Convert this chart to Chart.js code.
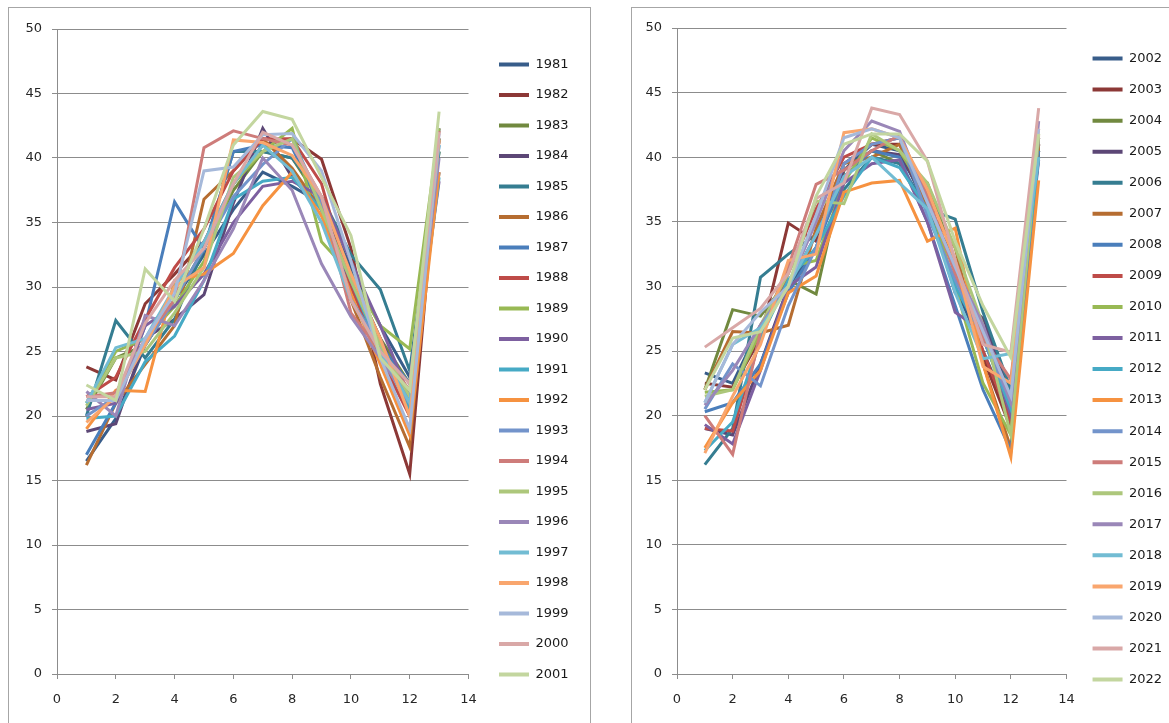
<!DOCTYPE html>
<html>
<head>
<meta charset="utf-8">
<script src="https://cdn.jsdelivr.net/npm/chart.js@4/dist/chart.umd.min.js"></script>
<style>
  html, body { margin: 0; padding: 0; background: #ffffff; overflow: hidden; }
  body { width: 1169px; height: 723px; position: relative; }
  .frame { position: absolute; border: 1px solid #a6a6a6; background: #fff; }
  .box { position: absolute; }
</style>
</head>
<body>
<div class="frame" style="left:8px; top:7px; width:581px; height:730px;"></div>
<div class="frame" style="left:631px; top:7px; width:560px; height:730px;"></div>
<div class="box" style="left:9px; top:8px; width:580px; height:714px;"><canvas id="left"></canvas></div>
<div class="box" style="left:632px; top:8px; width:537px; height:715px;"><canvas id="right"></canvas></div>
<script>
// ---- data ----
const xValues = [1, 2, 3, 4, 5, 6, 7, 8, 9, 10, 11, 12, 13];
const xTicks = [0, 2, 4, 6, 8, 10, 12, 14];
const yTicks = [0, 5, 10, 15, 20, 25, 30, 35, 40, 45, 50];

const leftYears = ['1981','1982','1983','1984','1985','1986','1987','1988','1989','1990','1991','1992','1993','1994','1995','1996','1997','1998','1999','2000','2001'];
const rightYears = ['2002','2003','2004','2005','2006','2007','2008','2009','2010','2011','2012','2013','2014','2015','2016','2017','2018','2019','2020','2021','2022'];

const y1981 = [16.5,19.8,25.5,29.0,32.5,36.0,38.9,37.8,36.5,31.5,27.0,23.0,38.9];
const y1982 = [23.8,22.8,28.7,31.0,33.5,38.0,41.0,41.5,39.9,33.0,22.5,15.5,41.5];
const y1983 = [20.5,24.5,25.5,29.0,33.0,37.5,40.5,40.0,36.5,31.0,26.0,22.5,40.5];
const y1984 = [18.8,19.4,26.0,27.5,29.4,36.5,42.3,38.5,36.0,31.0,26.0,21.0,42.3];
const y1985 = [20.0,27.4,24.5,27.5,33.0,40.5,40.5,40.0,37.0,32.5,29.8,23.5,40.5];
const y1986 = [16.2,21.0,24.0,27.0,36.8,39.0,41.5,39.2,36.0,29.0,23.0,17.6,41.5];
const y1987 = [17.0,21.0,27.0,36.6,32.9,40.5,41.0,40.8,36.0,30.0,25.5,22.5,41.0];
const y1988 = [21.5,23.0,27.5,31.5,34.5,39.0,41.5,41.5,38.0,30.0,24.5,20.0,41.5];
const y1989 = [21.0,25.0,26.0,28.5,32.0,38.0,40.5,42.3,33.5,31.0,27.0,25.2,42.3];
const y1990 = [20.5,21.0,27.0,28.5,31.0,35.0,37.8,38.2,37.0,32.0,27.0,21.5,38.2];
const y1991 = [19.8,20.0,24.2,26.2,30.5,36.8,38.2,38.5,36.0,30.5,25.0,20.5,38.5];
const y1992 = [19.0,22.0,21.9,30.5,31.0,32.6,36.3,38.9,35.5,29.5,24.0,18.5,38.9];
const y1993 = [20.0,21.5,25.5,29.0,33.0,37.0,39.5,41.5,36.5,29.0,25.5,21.0,41.5];
const y1994 = [21.5,21.8,26.0,29.0,40.8,42.1,41.5,41.0,37.0,28.0,25.0,22.0,42.1];
const y1995 = [20.8,24.5,25.0,28.0,31.5,38.5,40.5,41.5,36.0,30.5,25.5,21.5,41.5];
const y1996 = [21.9,20.0,27.8,27.0,30.5,34.5,40.0,37.5,31.8,27.7,24.5,21.0,40.0];
const y1997 = [21.0,25.3,26.0,30.0,33.5,38.0,41.0,39.0,35.0,29.0,25.0,21.0,41.0];
const y1998 = [19.5,21.5,25.5,30.0,31.5,41.4,41.2,40.2,37.0,31.0,26.0,20.0,41.4];
const y1999 = [21.2,21.2,26.0,29.5,39.0,39.3,41.8,41.9,39.0,32.0,24.5,19.0,41.9];
const y2000 = [21.5,21.5,27.2,30.5,33.0,38.0,42.0,41.0,37.0,29.0,25.0,22.5,42.0];
const y2001 = [22.4,21.2,31.4,28.9,34.5,41.0,43.6,43.0,38.5,34.0,24.5,22.0,43.6];

const y2002 = [23.3,22.5,27.0,30.0,33.0,39.0,41.0,40.5,36.0,30.0,25.0,20.0,41.0];
const y2003 = [22.5,22.2,26.0,34.9,33.5,39.5,41.0,41.0,36.0,32.0,24.5,19.0,41.0];
const y2004 = [22.0,28.2,27.7,30.5,29.4,39.0,40.5,39.5,38.0,32.0,26.0,20.5,40.5];
const y2005 = [19.0,18.5,24.0,30.0,34.0,39.0,40.5,40.2,36.5,29.5,27.5,21.5,40.5];
const y2006 = [16.2,19.0,30.7,32.5,34.0,37.5,40.0,39.5,36.0,35.2,28.0,22.0,40.0];
const y2007 = [22.0,26.5,26.4,27.0,34.5,39.5,40.0,41.0,36.0,33.0,24.0,17.5,41.0];
const y2008 = [20.3,21.0,24.0,29.5,33.0,38.5,40.5,40.0,35.0,28.5,22.0,17.3,40.5];
const y2009 = [19.0,18.8,26.0,31.0,36.0,40.0,41.0,41.5,37.0,31.0,25.0,19.5,41.5];
const y2010 = [21.8,22.0,26.5,31.5,32.0,38.0,41.5,40.5,37.0,30.0,22.5,18.5,41.5];
const y2011 = [19.3,17.8,23.5,30.0,31.5,38.0,39.5,39.8,35.0,28.0,26.5,20.0,39.8];
const y2012 = [17.3,19.5,26.0,30.5,33.0,37.0,40.0,39.2,36.0,30.0,26.0,20.5,40.0];
const y2013 = [17.5,21.0,23.5,29.5,30.8,37.3,38.0,38.2,33.5,34.5,24.0,16.8,38.2];
const y2014 = [20.5,24.0,22.3,28.5,33.0,39.5,41.0,41.5,35.5,30.5,26.0,21.0,41.5];
const y2015 = [20.0,17.0,26.5,31.5,37.9,39.0,40.5,41.7,37.0,31.0,26.0,22.8,41.7];
const y2016 = [21.5,22.0,27.0,31.0,36.6,36.4,41.8,40.5,38.0,33.0,27.0,18.5,41.8];
const y2017 = [20.8,23.5,27.0,30.0,35.0,40.5,42.8,42.0,36.5,31.5,27.0,21.0,42.8];
const y2018 = [21.0,25.5,26.8,30.0,34.0,38.5,40.0,38.0,36.0,29.5,24.4,24.8,40.0];
const y2019 = [17.1,21.5,25.5,32.0,32.5,41.9,42.2,41.5,37.5,32.0,23.8,22.5,42.2];
const y2020 = [21.0,25.5,28.0,30.0,35.5,41.5,42.2,41.5,36.5,31.5,26.5,21.5,42.2];
const y2021 = [25.3,26.8,28.3,31.0,36.8,38.0,43.8,43.3,39.7,32.0,25.5,24.9,43.8];
const y2022 = [22.0,26.0,26.5,30.0,37.0,41.0,41.8,41.8,39.7,33.5,28.5,24.5,41.8];

const leftSeries = [y1981,y1982,y1983,y1984,y1985,y1986,y1987,y1988,y1989,y1990,y1991,y1992,y1993,y1994,y1995,y1996,y1997,y1998,y1999,y2000,y2001];
const rightSeries = [y2002,y2003,y2004,y2005,y2006,y2007,y2008,y2009,y2010,y2011,y2012,y2013,y2014,y2015,y2016,y2017,y2018,y2019,y2020,y2021,y2022];

const palette = ['#385D8A','#8C3836','#71893F','#5C4776','#357D91','#B66D31',
                 '#4A7EBB','#BE4B48','#98B954','#7D60A0','#46AAC5','#F69240',
                 '#7394CB','#CE7C7A','#ADC77B','#9A87B8','#72BCD3','#F9A66E',
                 '#A6B9DA','#D9A8A7','#C3D69F'];

const FONT = { family: '"DejaVu Sans", sans-serif', size: 13 };
const GRID = '#8c8c8c';

function makeChart(id, years, series, L) {
  const n = series.length;
  const datasets = series.map((vals, i) => ({
    label: years[i],
    data: xValues.map((x, j) => ({ x: x, y: vals[j] })),
    borderColor: palette[i],
    backgroundColor: palette[i],
    borderWidth: 3,
    pointRadius: 0,
    tension: 0,
    fill: false,
    order: n - i
  }));
  return new Chart(document.getElementById(id), {
    type: 'line',
    data: { datasets },
    options: {
      responsive: true,
      maintainAspectRatio: false,
      animation: false,
      devicePixelRatio: 1,
      layout: { padding: { left: 0, top: L.padTop, right: L.padRight, bottom: 0 } },
      plugins: {
        tooltip: { enabled: false },
        legend: {
          position: 'right',
          align: 'start',
          title: { display: true, text: '', padding: 0, font: { size: 1, lineHeight: L.titleH + 'px' } },
          labels: {
            boxWidth: 30,
            boxHeight: 4,
            padding: L.legendPad,
            color: '#1a1a1a',
            font: FONT,
            sort: (a, b) => a.datasetIndex - b.datasetIndex,
            generateLabels: (chart) => Chart.defaults.plugins.legend.labels.generateLabels(chart)
              .map(it => Object.assign(it, { lineWidth: 0, fillStyle: it.strokeStyle }))
          }
        }
      },
      scales: {
        x: {
          type: 'linear',
          position: 'bottom',
          min: 0, max: 14,
          afterBuildTicks: (s) => { s.ticks = xTicks.map(v => ({ value: v })); },
          ticks: { color: '#262626', font: FONT, padding: 13, maxRotation: 0, autoSkip: false },
          grid: { display: true, drawOnChartArea: false, drawTicks: true, tickLength: 5, color: GRID },
          border: { display: true, color: GRID, width: 1 },
          afterFit: (s) => { s.height = L.xAxisH; }
        },
        y: {
          type: 'linear',
          position: 'left',
          min: 0, max: 50,
          afterBuildTicks: (s) => { s.ticks = yTicks.map(v => ({ value: v })); },
          ticks: { color: '#262626', font: FONT, padding: 10 },
          grid: { display: true, drawOnChartArea: true, drawTicks: true, tickLength: 5, color: GRID },
          border: { display: true, color: GRID, width: 1 },
          afterFit: (s) => { s.width = L.yAxisW; }
        },
        gap: {
          type: 'linear',
          position: 'right',
          display: true,
          grid: { display: false, drawTicks: false },
          border: { display: false },
          ticks: { display: false },
          afterFit: (s) => { s.width = L.gapW; }
        }
      }
    }
  });
}

makeChart('left', leftYears, leftSeries,
  { padTop: 21, padRight: 13, xAxisH: 48, yAxisW: 48, gapW: 13, legendPad: 17.5, titleH: 11.5 });
makeChart('right', rightYears, rightSeries,
  { padTop: 20, padRight: 6, xAxisH: 49, yAxisW: 45, gapW: 8, legendPad: 18.05, titleH: 6 });
</script>
</body>
</html>
